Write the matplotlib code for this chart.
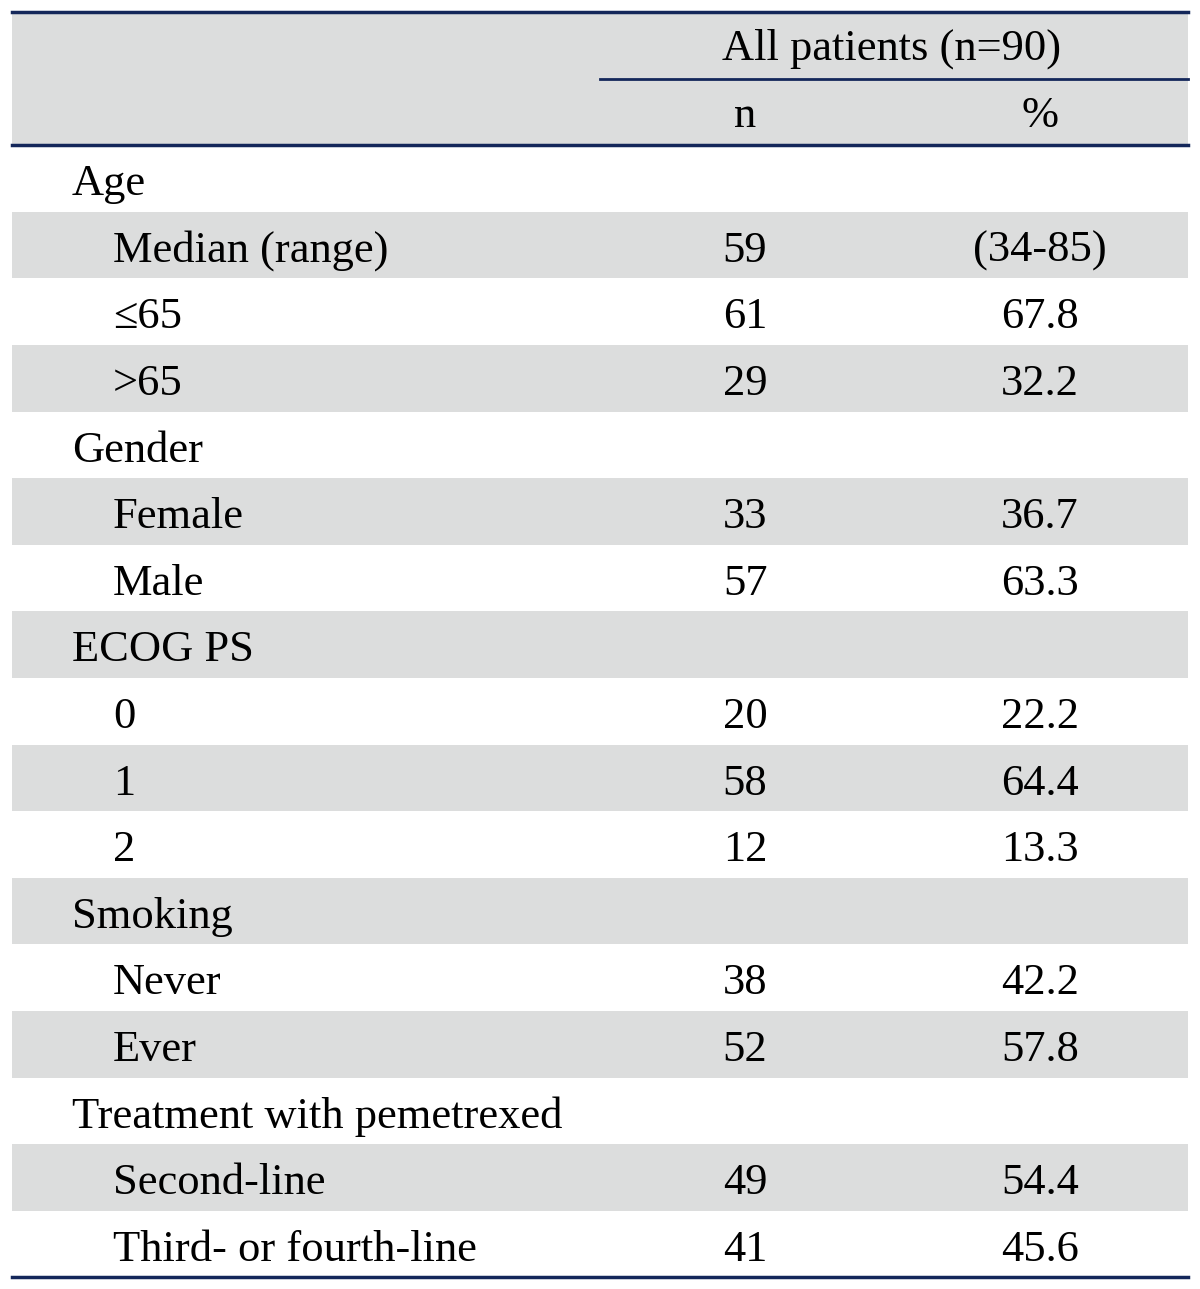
import matplotlib.pyplot as plt

# Table content
labels = ["Age", "Median (range)", "\u226465", ">65",
          "Gender", "Female", "Male",
          "ECOG PS", "0", "1", "2",
          "Smoking", "Never", "Ever",
          "Treatment with pemetrexed", "Second-line", "Third- or fourth-line"]
is_group = [True, False, False, False,
            True, False, False,
            True, False, False, False,
            True, False, False,
            True, False, False]
n_vals = ["", "59", "61", "29", "", "33", "57", "", "20", "58", "12",
          "", "38", "52", "", "49", "41"]
pct_vals = ["", "(34-85)", "67.8", "32.2", "", "36.7", "63.3", "", "22.2", "64.4", "13.3",
            "", "42.2", "57.8", "", "54.4", "45.6"]
header_top = "All patients (n=90)"
header_cols = ["n", "%"]

# Layout (pixel coordinates)
W, H = 1200, 1289
left, right = 12, 1188
top = 12
row_h = 66.6
body_top = top + 2 * row_h
x_group, x_item = 72, 113
x_n, x_pct = 745, 1040
gray = "#dcdddd"
navy = "#14275a"
fs = 32
base_off = 50  # baseline offset inside a row

plt.rcParams['font.family'] = ['Liberation Serif', 'DejaVu Serif']

fig = plt.figure(figsize=(12, 12.89), dpi=100)
ax = fig.add_axes([0, 0, 1, 1])
ax.set_xlim(0, W)
ax.set_ylim(H, 0)
ax.axis("off")

# header background
ax.fill_between([left, right], top, body_top, color=gray, lw=0)
ax.text((x_n + x_pct) / 2 - 1, top + 48, header_top, ha="center", va="baseline", fontsize=fs)
ax.text(x_n, top + row_h + 48, header_cols[0], ha="center", va="baseline", fontsize=fs)
ax.text(x_pct, top + row_h + 48, header_cols[1], ha="center", va="baseline", fontsize=fs)

# body rows
for i, lab in enumerate(labels):
    y0 = body_top + i * row_h
    yb = y0 + base_off
    if i % 2 == 1:
        ax.fill_between([left, right], y0, y0 + row_h, color=gray, lw=0)
    ax.text(x_group if is_group[i] else x_item, yb, lab, ha="left", va="baseline", fontsize=fs)
    ax.text(x_n, yb, n_vals[i], ha="center", va="baseline", fontsize=fs)
    ax.text(x_pct, yb, pct_vals[i], ha="center", va="baseline", fontsize=fs)

body_bottom = body_top + len(labels) * row_h

# rules
ax.plot([left, right], [top, top], color=navy, lw=2.5)
ax.plot([600, right], [top + row_h, top + row_h], color=navy, lw=2)
ax.plot([left, right], [body_top, body_top], color=navy, lw=2.5)
ax.plot([left, right], [body_bottom, body_bottom], color=navy, lw=2.5)

fig.savefig("out.png", dpi=100)
